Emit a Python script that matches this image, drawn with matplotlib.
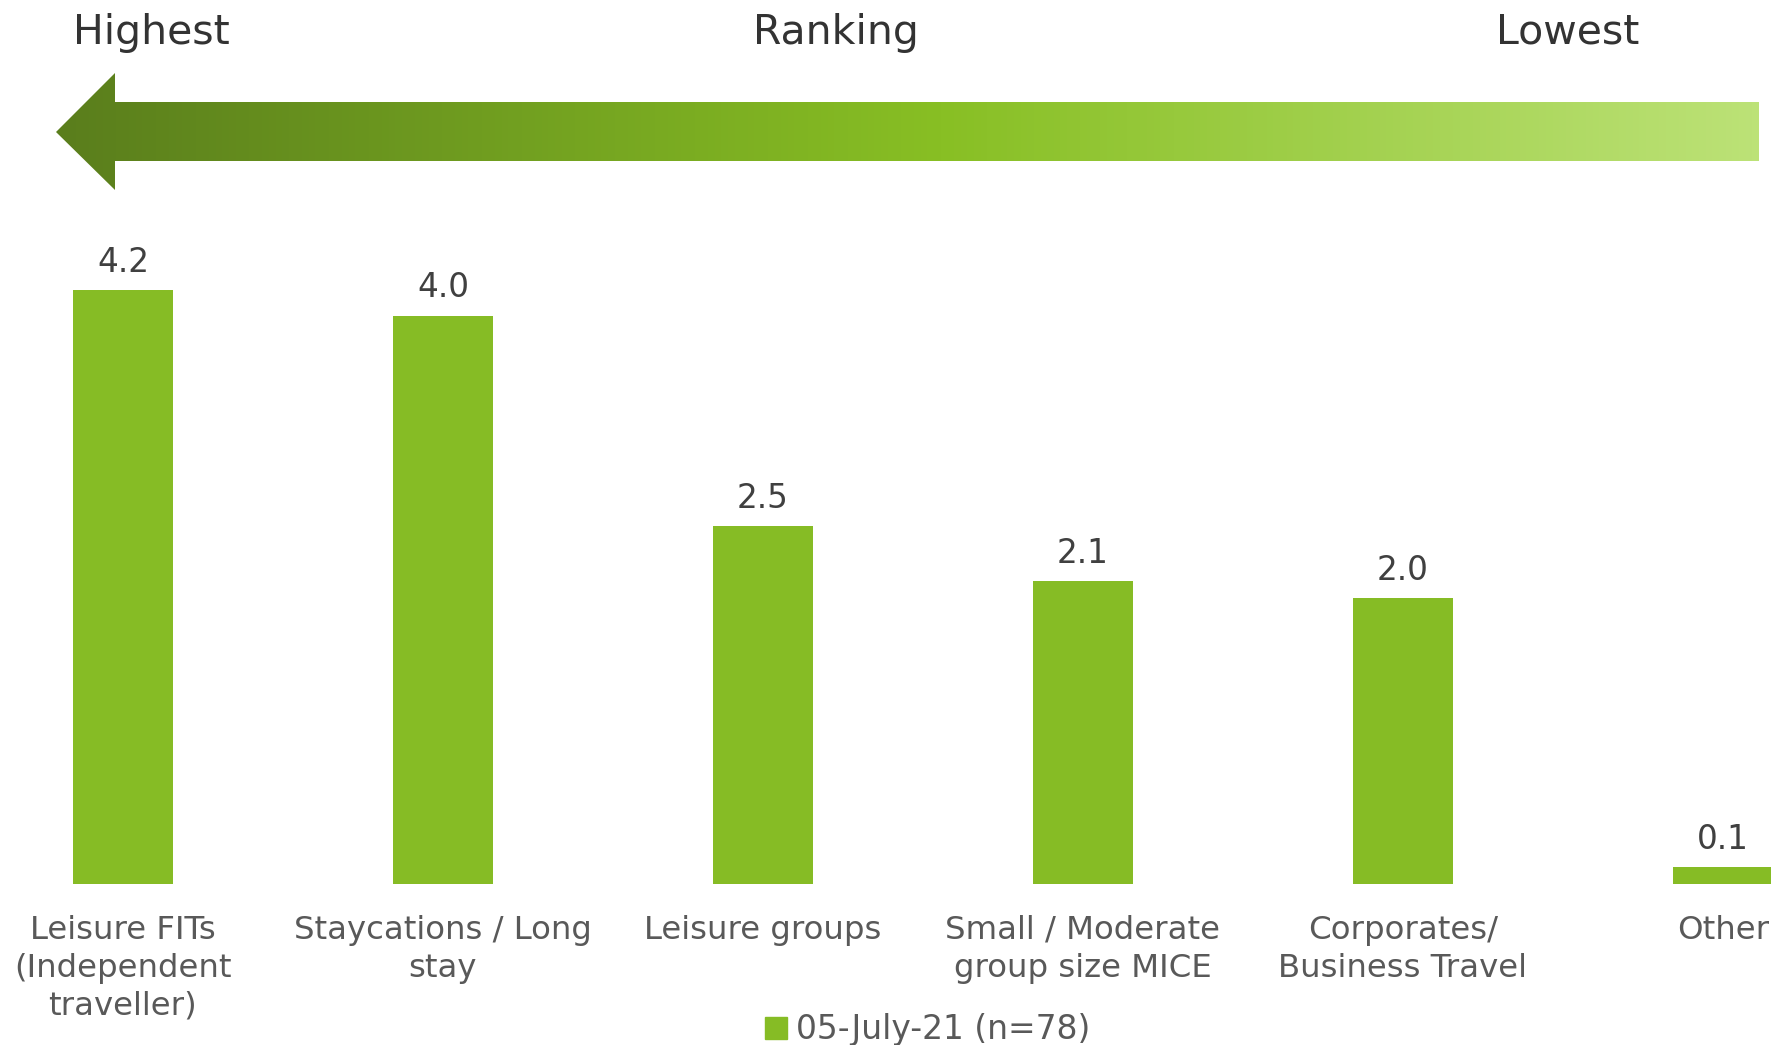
import matplotlib.pyplot as plt
import numpy as np
from matplotlib.colors import LinearSegmentedColormap
from matplotlib.patches import Patch, Polygon

categories = [
    "Leisure FITs\n(Independent\ntraveller)",
    "Staycations / Long\nstay",
    "Leisure groups",
    "Small / Moderate\ngroup size MICE",
    "Corporates/\nBusiness Travel",
    "Other",
]
scores = [4.2, 4.02, 2.53, 2.14, 2.02, 0.12]
series_name = "05-July-21 (n=78)"

W, H = 1771, 1045
bar_green = "#86bc25"

fig = plt.figure(figsize=(W / 100, H / 100), dpi=100)

# bars
ax = fig.add_axes([0, (H - 884) / H, 1, (884 - 220) / H])
x = np.arange(len(categories))
bars = ax.bar(x, scores, width=0.311, color=bar_green, label=series_name)
ax.set_xlim(-0.384, 5.15)
ax.set_ylim(0, 4.696)
for b, v in zip(bars, scores):
    ax.annotate(f"{v:.1f}", (b.get_x() + b.get_width() / 2, v),
                xytext=(0, 8), textcoords="offset points",
                ha="center", va="bottom", fontsize=23.5, color="#404040")
ax.set_xticks(x)
ax.set_xticklabels(categories, fontsize=23.3, color="#595959", linespacing=1.3)
ax.tick_params(axis="x", length=0, pad=22)
ax.set_yticks([])
for s in ax.spines.values():
    s.set_visible(False)

# ranking arrow with gradient
arr = fig.add_axes([0, 0, 1, 1], zorder=-1)
arr.set_xlim(0, W)
arr.set_ylim(H, 0)
arr.axis("off")
pts = [(56, 132), (115, 73), (115, 102), (1759, 102), (1759, 161),
       (115, 161), (115, 190)]
shape = Polygon(pts, closed=True, facecolor="none", edgecolor="none")
arr.add_patch(shape)
cmap = LinearSegmentedColormap.from_list(
    "rank", [(0, "#5a7e1c"), (0.52, "#88bf24"), (1, "#bce277")])
grad = np.linspace(0, 1, 512).reshape(1, -1)
img = arr.imshow(grad, cmap=cmap, extent=[56, 1759, 190, 73], aspect="auto")
img.set_clip_path(shape)
arr.set_xlim(0, W)
arr.set_ylim(H, 0)

for txt, xp in [("Highest", 151), ("Ranking", 836), ("Lowest", 1568)]:
    arr.text(xp, 33, txt, ha="center", va="center", fontsize=29.5, color="#333333")

fig.legend(handles=[Patch(color=bar_green, label=series_name)],
           loc="center", bbox_to_anchor=(928 / W, 1 - 1030 / H),
           frameon=False, fontsize=23.7, handlelength=0.65, handleheight=0.65,
           handletextpad=0.3, labelcolor="#595959")

fig.savefig("out.png", dpi=100)
